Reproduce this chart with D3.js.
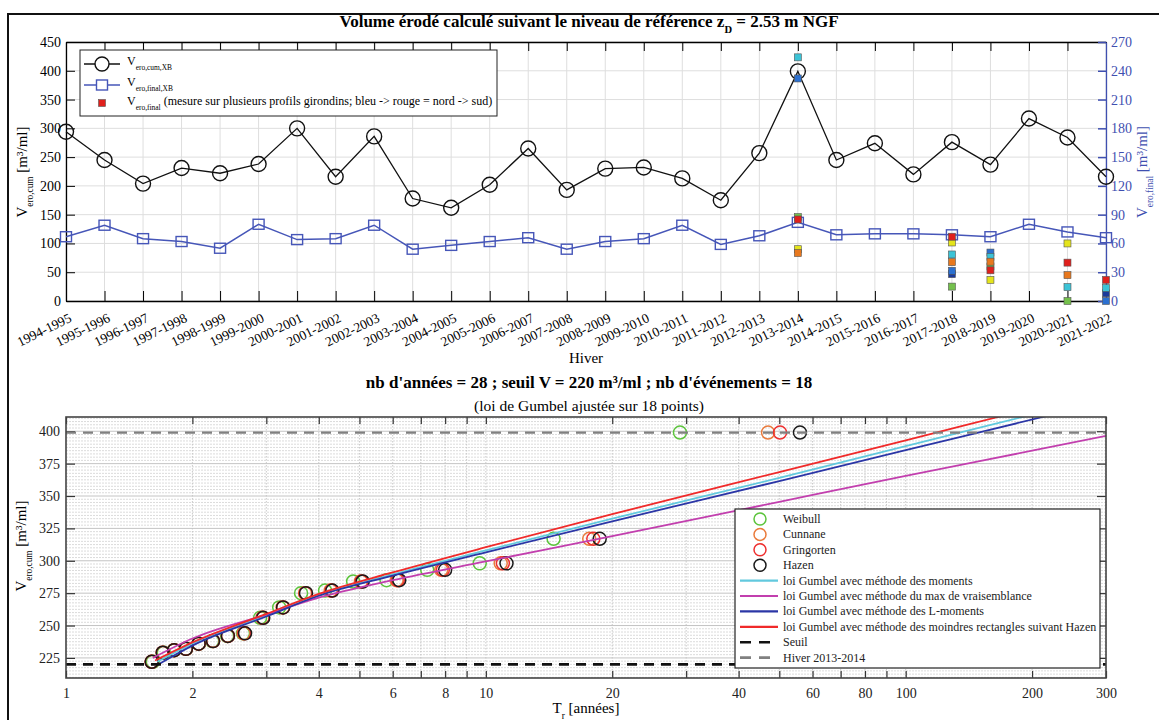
<!DOCTYPE html>
<html>
<head>
<meta charset="utf-8">
<script src="https://cdn.jsdelivr.net/npm/d3@7"></script>
<style>
  body { margin: 0; background: #fff; }
  svg { display: block; font-family: "Liberation Serif", "DejaVu Serif", serif; }
</style>
</head>
<body>
<div id="root"></div>
<script>
"use strict";

// ---- top chart data ----
var winters = ["1994-1995", "1995-1996", "1996-1997", "1997-1998", "1998-1999", "1999-2000",
    "2000-2001", "2001-2002", "2002-2003", "2003-2004", "2004-2005", "2005-2006", "2006-2007",
    "2007-2008", "2008-2009", "2009-2010", "2010-2011", "2011-2012", "2012-2013", "2013-2014",
    "2014-2015", "2015-2016", "2016-2017", "2017-2018", "2018-2019", "2019-2020", "2020-2021",
    "2021-2022"];

// V_ero,cum,XB (left axis)
var vEroCumXB = [294, 245, 204, 231, 222, 238, 300, 216, 286, 178, 162, 202, 265, 193,
    230, 232, 213, 175, 257, 399, 245, 274, 220, 276, 237, 317, 284, 216];

// V_ero,final,XB (right axis)
var vEroFinalXB = [67, 79, 65, 62, 55, 80, 64, 65, 79, 54, 58, 62, 66, 54,
    62, 65, 79, 59, 68, 82, 69, 70, 70, 69, 67, 80, 72, 66];

// V_ero,final measured on several profiles, north -> south (right axis)
var profilWinters = ["2013-2014", "2017-2018", "2018-2019", "2020-2021", "2021-2022"];
var profil1 = [null, 28, null, null, 8];
var profil2 = [232, 31.5, 50.5, null, 0];
var profil3 = [254, 48.5, 46, 14.5, 13.5];
var profil4 = [87.5, 15, 36, 0, null];
var profil5 = [54, 61, 22, 60, null];
var profil6 = [50, 40.5, 41, 27, null];
var profil7 = [85, 67, 32, 40, 22];

var leftTicks = [0, 50, 100, 150, 200, 250, 300, 350, 400, 450];
var rightTicks = [0, 30, 60, 90, 120, 150, 180, 210, 240, 270];

// ---- bottom chart data ----
var eventV = [399, 317, 298, 293, 285, 284, 277, 275, 264, 256, 244, 242, 238, 236, 232, 231, 229, 222];
var weibullT = [29, 14.5, 9.67, 7.25, 5.8, 4.83, 4.14, 3.63, 3.22, 2.9, 2.64, 2.42, 2.23, 2.07, 1.93, 1.81, 1.71, 1.61];
var cunnaneT = [47, 17.63, 10.85, 7.83, 6.13, 5.04, 4.27, 3.71, 3.28, 2.94, 2.65, 2.43, 2.24, 2.07, 1.93, 1.81, 1.7, 1.6];
var gringortenT = [50.2, 18.03, 10.98, 7.9, 6.17, 5.06, 4.29, 3.72, 3.29, 2.94, 2.66, 2.43, 2.24, 2.07, 1.93, 1.81, 1.7, 1.6];
var hazenT = [56, 18.67, 11.2, 8, 6.22, 5.09, 4.31, 3.73, 3.29, 2.95, 2.67, 2.43, 2.24, 2.07, 1.93, 1.81, 1.7, 1.6];

var gumbelMomentsT = [1.65, 2, 3, 4, 6, 10, 20, 50, 100, 190, 300];
var gumbelMomentsV = [222, 236, 258, 273.5, 289.5, 308, 332.5, 364, 388.5, 411, 427];
var gumbelMaxVraisT = [1.61, 2, 3, 4, 6, 10, 20, 50, 100, 200, 300];
var gumbelMaxVraisV = [225, 240, 258.5, 271.5, 285, 299.5, 319, 345.5, 365.5, 385, 396.5];
var gumbelLMomT = [1.67, 2, 3, 4, 6, 10, 20, 50, 100, 212, 300];
var gumbelLMomV = [220.5, 234.5, 257, 273, 288.5, 306.5, 330.5, 361.5, 385.5, 411, 423];
var gumbelHazenT = [1.63, 2, 3, 4, 6, 10, 20, 50, 100, 166, 300];
var gumbelHazenV = [223, 237, 259, 274.5, 291, 310.5, 336, 368.5, 393, 411, 432];

var seuilV = 220;
var hiverV = 399;

var bottomYTicks = [225, 250, 275, 300, 325, 350, 375, 400];
var bottomXTicks = [1, 2, 3, 4, 5, 6, 7, 8, 9, 10, 20, 30, 40, 50, 60, 70, 80, 90, 100, 200, 300];
var bottomXLabels = [1, 2, 4, 6, 8, 10, 20, 40, 60, 80, 100, 200, 300];

// ---- styles ----
var BLUE_AX = "#3f4fb0";
var BLUE_LINE = "#4656b8";
var profilColors = ["#1b3a9a", "#2b70d0", "#3cc3d6", "#74c04c", "#e4e41c", "#e8781e", "#e0201c"];
var GRID = "#dedede";

var W = 1159, H = 720;
var svg = d3.select("#root").append("svg").attr("width", W).attr("height", H);

// writes text made of normal / subscript pieces
function rich(textSel, parts, size) {
    var shift = 0;
    parts.forEach(function (p) {
        var want = p[1] === "sub" ? size * 0.38 : 0;
        var ts = textSel.append("tspan").text(p[0]).attr("dy", want - shift);
        if (p[1] === "sub") ts.attr("font-size", size * 0.62);
        shift = want;
    });
    return textSel;
}

// figure frame
svg.append("path").attr("d", "M8," + H + "V14H" + W)
    .attr("fill", "none").attr("stroke", "#111").attr("stroke-width", 2);

// ================= TOP CHART =================
var t = { l: 66, r: 1106, t: 42, b: 301 };
var x1 = d3.scalePoint().domain(winters).range([t.l, t.r]);
var yL = d3.scaleLinear().domain([0, 450]).range([t.b, t.t]);
var yR = d3.scaleLinear().domain([0, 270]).range([t.b, t.t]);

var g1 = svg.append("g");

g1.selectAll(".vg").data(winters).join("line")
    .attr("x1", d => x1(d)).attr("x2", d => x1(d))
    .attr("y1", t.t).attr("y2", t.b)
    .attr("stroke", GRID);
g1.selectAll(".hg").data(leftTicks).join("line")
    .attr("x1", t.l).attr("x2", t.r)
    .attr("y1", d => yL(d)).attr("y2", d => yL(d))
    .attr("stroke", GRID);

var axB = g1.append("g").attr("transform", "translate(0," + t.b + ")")
    .call(d3.axisBottom(x1).tickSize(-10).tickSizeOuter(0));
axB.selectAll("text")
    .attr("y", 0).attr("dy", 0)
    .attr("text-anchor", "end")
    .attr("transform", "translate(6,20) rotate(-26)")
    .attr("font-size", 13.5);

g1.append("g").attr("transform", "translate(0," + t.t + ")")
    .call(d3.axisTop(x1).tickSize(-9).tickSizeOuter(0).tickFormat(""));

g1.append("g").attr("transform", "translate(" + t.l + ",0)")
    .call(d3.axisLeft(yL).tickValues(leftTicks).tickSize(-9).tickSizeOuter(0).tickPadding(5))
    .selectAll("text").attr("font-size", 14);

var axR = g1.append("g").attr("transform", "translate(" + t.r + ",0)")
    .call(d3.axisRight(yR).tickValues(rightTicks).tickSize(-8).tickSizeOuter(0).tickPadding(5));
axR.selectAll("text").attr("font-size", 14).attr("fill", BLUE_AX);
axR.selectAll("line").attr("stroke", BLUE_AX).attr("stroke-width", 1.5);
axR.select(".domain").attr("stroke", BLUE_AX).attr("stroke-width", 1.5);

g1.selectAll(".domain").attr("stroke-width", 1.3);
g1.selectAll("g").attr("font-family", null);

// black line
g1.append("path").datum(vEroCumXB)
    .attr("fill", "none").attr("stroke", "#111").attr("stroke-width", 1.3)
    .attr("d", d3.line().x((d, i) => x1(winters[i])).y(d => yL(d)));
g1.selectAll(".cum").data(vEroCumXB).join("circle")
    .attr("cx", (d, i) => x1(winters[i])).attr("cy", d => yL(d)).attr("r", 7.5)
    .attr("fill", "none").attr("stroke", "#111").attr("stroke-width", 1.4);

// blue line
g1.append("path").datum(vEroFinalXB)
    .attr("fill", "none").attr("stroke", BLUE_LINE).attr("stroke-width", 1.5)
    .attr("d", d3.line().x((d, i) => x1(winters[i])).y(d => yR(d)));
g1.selectAll(".fin").data(vEroFinalXB).join("rect")
    .attr("x", (d, i) => x1(winters[i]) - 5.5).attr("y", d => yR(d) - 5)
    .attr("width", 11).attr("height", 10)
    .attr("fill", "none").attr("stroke", BLUE_LINE).attr("stroke-width", 1.4);

// profile squares
var profils = [profil1, profil2, profil3, profil4, profil5, profil6, profil7];
profils.forEach(function (vals, p) {
    var pts = vals.map((v, i) => ({ w: profilWinters[i], v: v })).filter(d => d.v !== null);
    g1.selectAll(".pr" + p).data(pts).join("rect")
        .attr("x", d => x1(d.w) - 3.5).attr("y", d => yR(d.v) - 3.5)
        .attr("width", 7).attr("height", 7)
        .attr("fill", profilColors[p]).attr("stroke", "#555").attr("stroke-width", 0.6);
});

// legend (top)
var lg1 = svg.append("g");
lg1.append("rect").attr("x", 80).attr("y", 50).attr("width", 417).attr("height", 66)
    .attr("fill", "#fff").attr("stroke", "#222").attr("stroke-width", 1);
var rows1 = [64, 85, 103];
lg1.append("line").attr("x1", 84).attr("x2", 120).attr("y1", rows1[0]).attr("y2", rows1[0])
    .attr("stroke", "#111").attr("stroke-width", 1.3);
lg1.append("circle").attr("cx", 102).attr("cy", rows1[0]).attr("r", 7)
    .attr("fill", "#fff").attr("stroke", "#111").attr("stroke-width", 1.4);
lg1.append("line").attr("x1", 84).attr("x2", 120).attr("y1", rows1[1]).attr("y2", rows1[1])
    .attr("stroke", BLUE_LINE).attr("stroke-width", 1.5);
lg1.append("rect").attr("x", 96.5).attr("y", rows1[1] - 5).attr("width", 11).attr("height", 10)
    .attr("fill", "#fff").attr("stroke", BLUE_LINE).attr("stroke-width", 1.4);
lg1.append("rect").attr("x", 98.5).attr("y", rows1[2] - 3.5).attr("width", 7).attr("height", 7)
    .attr("fill", profilColors[6]).attr("stroke", "#555").attr("stroke-width", 0.6);
rich(lg1.append("text").attr("x", 127).attr("y", rows1[0] + 1).attr("font-size", 12),
    [["V", null], ["ero,cum,XB", "sub"]], 12);
rich(lg1.append("text").attr("x", 127).attr("y", rows1[1] + 1).attr("font-size", 12),
    [["V", null], ["ero,final,XB", "sub"]], 12);
rich(lg1.append("text").attr("x", 127).attr("y", rows1[2] + 2).attr("font-size", 12),
    [["V", null], ["ero,final", "sub"], [" (mesure sur plusieurs profils girondins; bleu -> rouge = nord -> sud)", null]], 12);

// titles & labels (top)
rich(svg.append("text").attr("x", 589).attr("y", 27).attr("text-anchor", "middle")
    .attr("font-size", 17).attr("font-weight", "bold"),
    [["Volume érodé calculé suivant le niveau de référence z", null], ["D", "sub"], [" = 2.53 m NGF", null]], 17);

svg.append("text").attr("x", 586).attr("y", 363).attr("text-anchor", "middle")
    .attr("font-size", 15).text("Hiver");

rich(svg.append("text").attr("transform", "translate(27,172) rotate(-90)")
    .attr("text-anchor", "middle").attr("font-size", 15),
    [["V", null], ["ero,cum", "sub"], [" [m³/ml]", null]], 15);
rich(svg.append("text").attr("transform", "translate(1147,172) rotate(-90)")
    .attr("text-anchor", "middle").attr("font-size", 15).attr("fill", BLUE_AX),
    [["V", null], ["ero,final", "sub"], [" [m³/ml]", null]], 15);

// ================= BOTTOM CHART =================
var b = { l: 66, r: 1106, t: 417, b: 678 };
var x2 = d3.scaleLog().domain([1, 300]).range([b.l, b.r]);
var y2 = d3.scaleLinear().domain([209.5, 411]).range([b.b, b.t]);

var g2 = svg.append("g");
g2.append("defs").append("clipPath").attr("id", "clip2")
    .append("rect").attr("x", b.l).attr("y", b.t).attr("width", b.r - b.l).attr("height", b.b - b.t);

var minorV = d3.range(210, 411, 2.5).filter(v => v % 25 !== 0);
g2.selectAll(".mh").data(minorV).join("line")
    .attr("x1", b.l).attr("x2", b.r).attr("y1", d => y2(d)).attr("y2", d => y2(d))
    .attr("stroke", "#d2d2d2").attr("stroke-width", 0.8).attr("stroke-dasharray", "2,1");
g2.selectAll(".Mh").data(bottomYTicks).join("line")
    .attr("x1", b.l).attr("x2", b.r).attr("y1", d => y2(d)).attr("y2", d => y2(d))
    .attr("stroke", "#c4c4c4").attr("stroke-width", 1);
g2.selectAll(".vg").data(bottomXTicks.slice(1)).join("line")
    .attr("x1", d => x2(d)).attr("x2", d => x2(d)).attr("y1", b.t).attr("y2", b.b)
    .attr("stroke", "#c4c4c4").attr("stroke-width", 0.9).attr("stroke-dasharray", "1.5,1.5");

// ticks
g2.append("g").attr("transform", "translate(0," + b.b + ")")
    .call(d3.axisBottom(x2).tickValues(bottomXTicks).tickSize(-7).tickSizeOuter(0).tickPadding(10)
        .tickFormat(d => bottomXLabels.indexOf(d) >= 0 ? d : ""))
    .selectAll("text").attr("font-size", 14);
g2.append("g").attr("transform", "translate(0," + b.t + ")")
    .call(d3.axisTop(x2).tickValues(bottomXTicks).tickSize(-7).tickSizeOuter(0).tickFormat(""));
g2.append("g").attr("transform", "translate(" + b.l + ",0)")
    .call(d3.axisLeft(y2).tickValues(bottomYTicks).tickSize(-9).tickSizeOuter(0).tickPadding(6))
    .selectAll("text").attr("font-size", 14);
g2.append("g").attr("transform", "translate(" + b.r + ",0)")
    .call(d3.axisRight(y2).tickValues(bottomYTicks).tickSize(-9).tickSizeOuter(0).tickFormat(""));
g2.selectAll("g").attr("font-family", null);
g2.selectAll(".domain").remove();
g2.selectAll(".tick line").attr("stroke", "#333").attr("stroke-width", 1.2);
g2.selectAll(".tick text").attr("fill", "#222");

// points
var methods = [
    { T: weibullT, color: "#5cc43c" },
    { T: cunnaneT, color: "#ea7b3c" },
    { T: gringortenT, color: "#ee2f2f" },
    { T: hazenT, color: "#1a1a1a" }
];
var pts = g2.append("g").attr("clip-path", "url(#clip2)");
methods.forEach(function (m, k) {
    pts.selectAll(".m" + k).data(eventV).join("circle")
        .attr("cx", (d, i) => x2(m.T[i])).attr("cy", d => y2(d)).attr("r", 6.5)
        .attr("fill", "none").attr("stroke", m.color).attr("stroke-width", 1.5);
});

// gumbel fits
var fits = [
    { T: gumbelMomentsT, V: gumbelMomentsV, color: "#62c9de" },
    { T: gumbelMaxVraisT, V: gumbelMaxVraisV, color: "#c23fae" },
    { T: gumbelLMomT, V: gumbelLMomV, color: "#2b36a6" },
    { T: gumbelHazenT, V: gumbelHazenV, color: "#f02a2a" }
];
var fitLine = d3.line().curve(d3.curveMonotoneX);
fits.forEach(function (f) {
    pts.append("path")
        .attr("d", fitLine(f.T.map((tt, i) => [x2(tt), y2(f.V[i])])))
        .attr("fill", "none").attr("stroke", f.color).attr("stroke-width", 1.8);
});

// seuil & hiver 2013-2014
pts.append("line").attr("x1", b.l).attr("x2", b.r).attr("y1", y2(seuilV)).attr("y2", y2(seuilV))
    .attr("stroke", "#111").attr("stroke-width", 2.6).attr("stroke-dasharray", "10,7");
pts.append("line").attr("x1", b.l).attr("x2", b.r).attr("y1", y2(hiverV)).attr("y2", y2(hiverV))
    .attr("stroke", "#808080").attr("stroke-width", 2.2).attr("stroke-dasharray", "10,7");

// frame
g2.append("rect").attr("x", b.l).attr("y", b.t).attr("width", b.r - b.l).attr("height", b.b - b.t)
    .attr("fill", "none").attr("stroke", "#444").attr("stroke-width", 1.6);

// legend (bottom)
var lg2 = svg.append("g");
lg2.append("rect").attr("x", 735).attr("y", 509).attr("width", 365).attr("height", 159)
    .attr("fill", "#fff").attr("stroke", "#222").attr("stroke-width", 1.2);
var legItems = [
    { kind: "c", color: "#5cc43c", label: "Weibull" },
    { kind: "c", color: "#ea7b3c", label: "Cunnane" },
    { kind: "c", color: "#ee2f2f", label: "Gringorten" },
    { kind: "c", color: "#1a1a1a", label: "Hazen" },
    { kind: "l", color: "#62c9de", label: "loi Gumbel avec méthode des moments" },
    { kind: "l", color: "#c23fae", label: "loi Gumbel avec méthode du max de vraisemblance" },
    { kind: "l", color: "#2b36a6", label: "loi Gumbel avec méthode des L-moments" },
    { kind: "l", color: "#f02a2a", label: "loi Gumbel avec méthode des moindres rectangles suivant Hazen" },
    { kind: "d", color: "#111", label: "Seuil" },
    { kind: "d", color: "#808080", label: "Hiver 2013-2014" }
];
legItems.forEach(function (it, i) {
    var yy = 519 + i * 15.4;
    if (it.kind === "c") {
        lg2.append("circle").attr("cx", 760).attr("cy", yy).attr("r", 6)
            .attr("fill", "none").attr("stroke", it.color).attr("stroke-width", 1.5);
    } else {
        lg2.append("line").attr("x1", 740).attr("x2", it.kind === "d" ? 770 : 778)
            .attr("y1", yy).attr("y2", yy).attr("stroke", it.color)
            .attr("stroke-width", it.kind === "d" ? 2.6 : 2.2)
            .attr("stroke-dasharray", it.kind === "d" ? "11,8" : null);
    }
    lg2.append("text").attr("x", 783).attr("y", yy + 4).attr("font-size", 12).attr("fill", "#222")
        .text(it.label);
});

// titles & labels (bottom)
svg.append("text").attr("x", 589).attr("y", 388).attr("text-anchor", "middle")
    .attr("font-size", 17).attr("font-weight", "bold")
    .text("nb d'années = 28 ; seuil V = 220 m³/ml ; nb d'événements = 18");
svg.append("text").attr("x", 589).attr("y", 411).attr("text-anchor", "middle")
    .attr("font-size", 15.5)
    .text("(loi de Gumbel ajustée sur 18 points)");
rich(svg.append("text").attr("x", 586).attr("y", 713).attr("text-anchor", "middle").attr("font-size", 15),
    [["T", null], ["r", "sub"], [" [années]", null]], 15);
rich(svg.append("text").attr("transform", "translate(26,546) rotate(-90)")
    .attr("text-anchor", "middle").attr("font-size", 15),
    [["V", null], ["ero,cum", "sub"], [" [m³/ml]", null]], 15);
</script>
</body>
</html>
